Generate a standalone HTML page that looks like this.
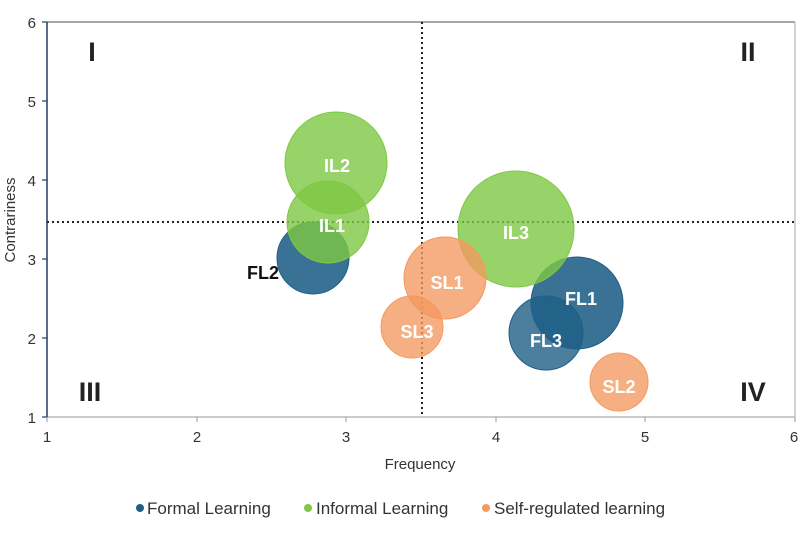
<!DOCTYPE html>
<html><head><meta charset="utf-8"><style>body{margin:0;background:#fff}</style></head><body>
<svg width="800" height="533" viewBox="0 0 800 533" font-family="Liberation Sans, sans-serif">
<rect width="800" height="533" fill="#fff"/>
<line x1="47" y1="22" x2="795" y2="22" stroke="#888" stroke-width="1.5"/>
<line x1="795" y1="22" x2="795" y2="417" stroke="#aaa" stroke-width="1"/>
<line x1="47" y1="417" x2="795" y2="417" stroke="#999" stroke-width="1"/>
<line x1="47" y1="22" x2="47" y2="417" stroke="#1f3f66" stroke-width="1.5"/>
<g stroke="#1f3f66" stroke-width="1.2">
<line x1="42" y1="22" x2="47" y2="22"/><line x1="42" y1="101" x2="47" y2="101"/><line x1="42" y1="180" x2="47" y2="180"/><line x1="42" y1="259" x2="47" y2="259"/><line x1="42" y1="338" x2="47" y2="338"/><line x1="42" y1="417" x2="47" y2="417"/>
</g>
<g stroke="#999" stroke-width="1">
<line x1="47" y1="417" x2="47" y2="422"/><line x1="197" y1="417" x2="197" y2="422"/><line x1="346" y1="417" x2="346" y2="422"/><line x1="496" y1="417" x2="496" y2="422"/><line x1="645" y1="417" x2="645" y2="422"/><line x1="795" y1="417" x2="795" y2="422"/>
</g>
<g font-size="15" fill="#333" text-anchor="end">
<text x="36" y="28">6</text><text x="36" y="107">5</text><text x="36" y="186">4</text><text x="36" y="265">3</text><text x="36" y="344">2</text><text x="36" y="423">1</text>
</g>
<g font-size="15" fill="#333" text-anchor="middle">
<text x="47" y="442">1</text><text x="197" y="442">2</text><text x="346" y="442">3</text><text x="496" y="442">4</text><text x="645" y="442">5</text><text x="794" y="442">6</text>
</g>
<text x="420" y="469" font-size="15" fill="#333" text-anchor="middle">Frequency</text>
<text transform="translate(15,220) rotate(-90)" font-size="15" fill="#333" text-anchor="middle">Contrariness</text>
<line x1="422" y1="22" x2="422" y2="417" stroke="#222" stroke-width="2" stroke-dasharray="2,3"/>
<line x1="47" y1="222" x2="795" y2="222" stroke="#222" stroke-width="2" stroke-dasharray="2,3"/>
<g font-size="27" font-weight="bold" fill="#222" text-anchor="middle">
<text x="92" y="61">I</text><text x="748" y="61">II</text><text x="90" y="401">III</text><text x="753" y="401">IV</text>
</g>
<g stroke-width="1">
<circle cx="313" cy="258" r="36" fill="#1f5f86" fill-opacity="0.88" stroke="#1f5f86"/>
<circle cx="577" cy="303" r="46" fill="#1f5f86" fill-opacity="0.88" stroke="#1f5f86"/>
<circle cx="546" cy="333" r="37" fill="#1f5f86" fill-opacity="0.8" stroke="#1f5f86"/>
<circle cx="336" cy="163" r="51" fill="#7ec843" fill-opacity="0.8" stroke="#7ec843"/>
<circle cx="328" cy="222" r="41" fill="#7ec843" fill-opacity="0.8" stroke="#7ec843"/>
<circle cx="516" cy="229" r="58" fill="#7ec843" fill-opacity="0.8" stroke="#7ec843"/>
<circle cx="445" cy="278" r="41" fill="#f4995f" fill-opacity="0.78" stroke="#f4995f"/>
<circle cx="412" cy="327" r="31" fill="#f4995f" fill-opacity="0.78" stroke="#f4995f"/>
<circle cx="619" cy="382" r="29" fill="#f4995f" fill-opacity="0.78" stroke="#f4995f"/>
</g>
<g font-size="18" font-weight="bold" fill="#fff" text-anchor="middle">
<text x="337" y="172">IL2</text><text x="332" y="232">IL1</text><text x="516" y="239">IL3</text>
<text x="447" y="289">SL1</text><text x="417" y="338">SL3</text><text x="619" y="393">SL2</text>
<text x="581" y="305">FL1</text><text x="546" y="347">FL3</text>
</g>
<text x="263" y="279" font-size="18" font-weight="bold" fill="#111" text-anchor="middle">FL2</text>
<g font-size="17" fill="#333">
<circle cx="140" cy="508" r="4" fill="#1f5f86"/><text x="147" y="514">Formal Learning</text>
<circle cx="308" cy="508" r="4" fill="#7ec843"/><text x="316" y="514">Informal Learning</text>
<circle cx="486" cy="508" r="4" fill="#f4995f"/><text x="494" y="514">Self-regulated learning</text>
</g>
</svg>
</body></html>
